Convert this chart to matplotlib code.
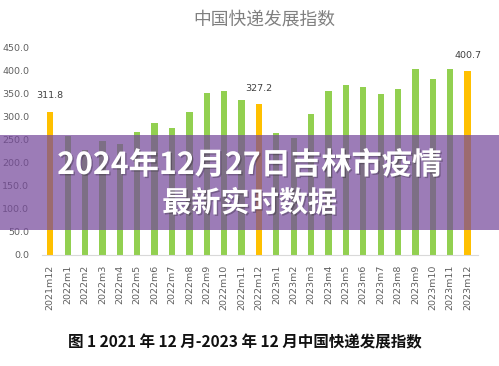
import matplotlib
matplotlib.use("Agg")
import matplotlib.pyplot as plt
from matplotlib.patches import Rectangle
import matplotlib.patheffects as pe

categories = ["2021m12", "2022m1", "2022m2", "2022m3", "2022m4", "2022m5", "2022m6",
              "2022m7", "2022m8", "2022m9", "2022m10", "2022m11", "2022m12",
              "2023m1", "2023m2", "2023m3", "2023m4", "2023m5", "2023m6", "2023m7",
              "2023m8", "2023m9", "2023m10", "2023m11", "2023m12"]
values = [311.8, 259, 228, 248, 241, 267, 288, 275, 311, 352, 357, 338, 327.2,
          265, 254, 306, 356, 370, 366, 351, 361, 405, 383, 405, 400.7]
highlight = ["2021m12", "2022m12", "2023m12"]
yticks = [0, 50, 100, 150, 200, 250, 300, 350, 400, 450]

title = "中国快递发展指数"
caption = "图 1 2021 年 12 月-2023 年 12 月中国快递发展指数"
overlay_lines = ["2024年12月27日吉林市疫情", "最新实时数据"]

plt.rcParams['font.family'] = ['Noto Sans CJK SC', 'DejaVu Sans']

fig = plt.figure(figsize=(4.99, 3.66), dpi=100)
fig.patch.set_facecolor("white")
ax = fig.add_axes([0.084, 0.3033, 0.874, 0.5656])

green = "#92d050"
yellow = "#ffc000"
colors = [yellow if c in highlight else green for c in categories]
x = list(range(len(categories)))
ax.bar(x, values, width=0.36, color=colors, zorder=2)

for i, c in enumerate(categories):
    if c in highlight:
        ax.annotate(f"{values[i]:.1f}", (i, values[i]), xytext=(0, 8),
                    textcoords="offset points", ha="center", va="bottom",
                    fontsize=6.8, color="#404040", family="DejaVu Sans")

ax.set_xlim(-0.48, 24.6)
ax.set_ylim(0, 450)
ax.set_xticks(x)
ax.set_xticklabels(categories, rotation=90, fontsize=6.8, color="#606060",
                   family="DejaVu Sans")
ax.set_yticks(yticks)
ax.set_yticklabels([f"{v:.1f}" for v in yticks], fontsize=6.8, color="#606060",
                   family="DejaVu Sans")
ax.tick_params(axis="both", length=0)
ax.tick_params(axis="y", pad=9)
ax.tick_params(axis="x", pad=7)
for s in ["top", "right", "left"]:
    ax.spines[s].set_visible(False)
ax.spines["bottom"].set_color("#d9d9d9")
ax.spines["bottom"].set_linewidth(0.8)

fig.text(264 / 499, 1 - 20 / 366, title, ha="center", va="center", fontsize=12.8,
         color="#808080", fontweight="light")
fig.text(245 / 499, 1 - 342 / 366, caption, ha="center", va="center", fontsize=11.2,
         color="#111111", fontweight="bold")

band = Rectangle((0, 1 - 230 / 366), 1, 95 / 366, transform=fig.transFigure,
                 facecolor="#764a9b", alpha=0.72, zorder=10)
fig.patches.append(band)

shadow = [pe.withSimplePatchShadow(offset=(1, -1), shadow_rgbFace="#000000", alpha=0.25)]
fig.text(0.5, 1 - 165 / 366, overlay_lines[0], ha="center", va="center",
         fontsize=21.8, color="white", fontweight="bold", zorder=11,
         path_effects=shadow)
fig.text(0.5, 1 - 203 / 366, overlay_lines[1], ha="center", va="center",
         fontsize=21, color="white", fontweight="bold", zorder=11,
         path_effects=shadow)

fig.savefig("out.png", dpi=100)
